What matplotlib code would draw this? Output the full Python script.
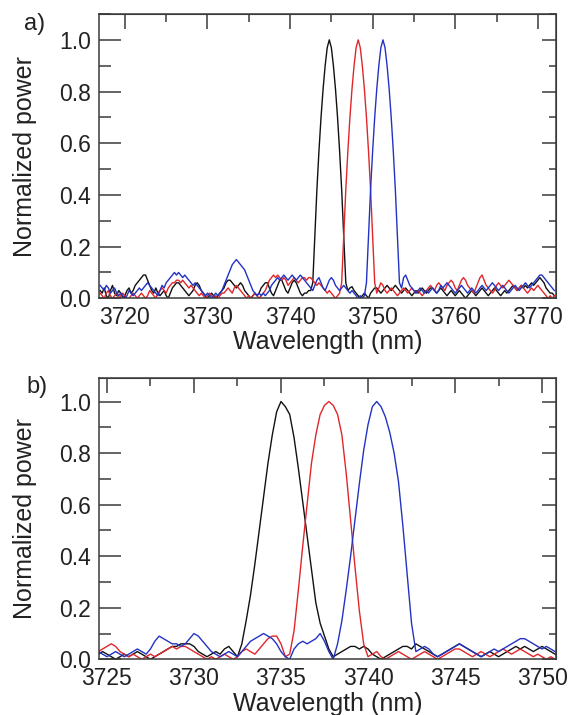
"""
Normalized transmission spectra for two filter settings (panels a and b)
"""
import numpy as np
import matplotlib
matplotlib.use('Agg')
import matplotlib.pyplot as plt
from matplotlib.ticker import MultipleLocator, FormatStrFormatter

plt.rcParams['font.family'] = ['Liberation Sans', 'DejaVu Sans']

# --- panel a) : sampled every 0.25 nm from 3717.0 to 3772.0 nm
top_wl = np.arange(3717.0, 3772.01, 0.25)

top_black = [
    0.03, 0.02, 0.04, 0.01, 0.00, 0.03, 0.05, 0.02, 0.01, 0.03, 0.02, 0.00, 0.01, 0.03, 0.04, 0.02, 0.03, 0.05, 0.06, 0.07,
    0.08, 0.09, 0.09, 0.07, 0.05, 0.03, 0.02, 0.04, 0.02, 0.01, 0.02, 0.03, 0.01, 0.00, 0.02, 0.04, 0.05, 0.06, 0.06, 0.05,
    0.04, 0.03, 0.02, 0.01, 0.02, 0.03, 0.05, 0.06, 0.05, 0.03, 0.02, 0.01, 0.00, 0.01, 0.02, 0.01, 0.00, 0.01, 0.02, 0.03,
    0.04, 0.06, 0.07, 0.07, 0.06, 0.05, 0.04, 0.05, 0.06, 0.05, 0.03, 0.02, 0.01, 0.00, 0.01, 0.02, 0.01, 0.02, 0.04, 0.05,
    0.06, 0.06, 0.04, 0.02, 0.01, 0.03, 0.05, 0.07, 0.07, 0.05, 0.03, 0.02, 0.04, 0.06, 0.07, 0.06, 0.04, 0.02, 0.01, 0.02,
    0.02, 0.03, 0.03, 0.06, 0.24, 0.42, 0.57, 0.70, 0.81, 0.90, 0.97, 1.00, 0.97, 0.90, 0.81, 0.70, 0.57, 0.42, 0.24, 0.06,
    0.03, 0.04, 0.045, 0.03, 0.02, 0.01, 0.00, 0.01, 0.02, 0.01, 0.00, 0.02, 0.03, 0.04, 0.04, 0.03, 0.02, 0.03, 0.04, 0.05,
    0.04, 0.03, 0.04, 0.05, 0.04, 0.03, 0.02, 0.03, 0.04, 0.03, 0.02, 0.01, 0.02, 0.03, 0.02, 0.03, 0.04, 0.03, 0.02, 0.03,
    0.04, 0.04, 0.03, 0.02, 0.03, 0.04, 0.03, 0.02, 0.01, 0.02, 0.03, 0.02, 0.01, 0.02, 0.03, 0.02, 0.01, 0.00, 0.01, 0.02,
    0.03, 0.02, 0.01, 0.02, 0.03, 0.04, 0.03, 0.02, 0.01, 0.02, 0.03, 0.04, 0.03, 0.02, 0.01, 0.02, 0.03, 0.02, 0.03, 0.04,
    0.05, 0.04, 0.03, 0.04, 0.05, 0.04, 0.05, 0.04, 0.05, 0.06, 0.05, 0.06, 0.07, 0.08, 0.07, 0.06, 0.04, 0.03, 0.02, 0.02,
    0.01,
]

top_red = [
    0.02, 0.01, 0.00, 0.02, 0.03, 0.01, 0.00, 0.01, 0.02, 0.00, 0.01, 0.02, 0.01, 0.00, 0.00, 0.01, 0.02, 0.01, 0.00, 0.01,
    0.02, 0.01, 0.00, 0.01, 0.03, 0.02, 0.01, 0.00, 0.02, 0.03, 0.04, 0.03, 0.02, 0.04, 0.05, 0.06, 0.06, 0.07, 0.07, 0.06,
    0.07, 0.06, 0.05, 0.04, 0.05, 0.04, 0.03, 0.02, 0.01, 0.02, 0.01, 0.00, 0.01, 0.02, 0.01, 0.00, 0.01, 0.00, 0.01, 0.02,
    0.02, 0.03, 0.04, 0.03, 0.02, 0.04, 0.05, 0.04, 0.03, 0.02, 0.01, 0.00, 0.01, 0.00, 0.01, 0.02, 0.01, 0.00, 0.01, 0.02,
    0.03, 0.05, 0.07, 0.08, 0.09, 0.08, 0.09, 0.08, 0.07, 0.08, 0.07, 0.05, 0.06, 0.07, 0.08, 0.07, 0.06, 0.07, 0.08, 0.08,
    0.07, 0.08, 0.08, 0.07, 0.06, 0.05, 0.06, 0.05, 0.04, 0.03, 0.02, 0.03, 0.02, 0.01, 0.00, 0.01, 0.02, 0.06, 0.24, 0.42,
    0.57, 0.70, 0.81, 0.90, 0.97, 1.00, 0.97, 0.90, 0.81, 0.70, 0.57, 0.42, 0.24, 0.06, 0.02, 0.04, 0.06, 0.05, 0.03, 0.02,
    0.03, 0.04, 0.03, 0.02, 0.01, 0.02, 0.03, 0.04, 0.03, 0.02, 0.03, 0.04, 0.03, 0.02, 0.03, 0.02, 0.01, 0.02, 0.03, 0.04,
    0.05, 0.04, 0.03, 0.05, 0.06, 0.05, 0.04, 0.03, 0.05, 0.06, 0.07, 0.06, 0.04, 0.03, 0.05, 0.07, 0.08, 0.07, 0.05, 0.04,
    0.03, 0.02, 0.04, 0.06, 0.08, 0.09, 0.07, 0.05, 0.04, 0.03, 0.02, 0.03, 0.05, 0.06, 0.05, 0.04, 0.05, 0.06, 0.07, 0.06,
    0.05, 0.04, 0.03, 0.04, 0.05, 0.04, 0.03, 0.02, 0.03, 0.04, 0.03, 0.04, 0.05, 0.04, 0.03, 0.02, 0.01, 0.00, 0.01, 0.00,
    0.01,
]

top_blue = [
    0.05, 0.04, 0.03, 0.05, 0.04, 0.02, 0.03, 0.04, 0.02, 0.01, 0.02, 0.01, 0.00, 0.01, 0.03, 0.02, 0.01, 0.02, 0.03, 0.04,
    0.03, 0.04, 0.05, 0.06, 0.05, 0.04, 0.03, 0.02, 0.01, 0.03, 0.05, 0.04, 0.06, 0.07, 0.08, 0.09, 0.10, 0.09, 0.10, 0.09,
    0.08, 0.09, 0.08, 0.07, 0.06, 0.05, 0.06, 0.05, 0.04, 0.03, 0.02, 0.01, 0.02, 0.01, 0.00, 0.01, 0.02, 0.01, 0.02, 0.03,
    0.05, 0.07, 0.09, 0.11, 0.13, 0.14, 0.15, 0.14, 0.13, 0.12, 0.11, 0.09, 0.07, 0.05, 0.03, 0.02, 0.01, 0.02, 0.01, 0.02,
    0.01, 0.02, 0.03, 0.05, 0.06, 0.07, 0.08, 0.07, 0.08, 0.09, 0.08, 0.07, 0.08, 0.09, 0.08, 0.07, 0.08, 0.09, 0.08, 0.07,
    0.06, 0.05, 0.04, 0.03, 0.05, 0.07, 0.08, 0.06, 0.04, 0.03, 0.05, 0.07, 0.08, 0.07, 0.05, 0.04, 0.03, 0.04, 0.05, 0.04,
    0.03, 0.02, 0.03, 0.02, 0.01, 0.00, 0.01, 0.00, 0.01, 0.06, 0.24, 0.42, 0.57, 0.70, 0.81, 0.90, 0.97, 1.00, 0.97, 0.90,
    0.81, 0.70, 0.57, 0.42, 0.24, 0.06, 0.04, 0.08, 0.09, 0.07, 0.05, 0.04, 0.03, 0.02, 0.03, 0.04, 0.03, 0.02, 0.03, 0.02,
    0.03, 0.04, 0.03, 0.02, 0.03, 0.05, 0.04, 0.05, 0.06, 0.05, 0.04, 0.03, 0.02, 0.03, 0.04, 0.05, 0.04, 0.03, 0.02, 0.03,
    0.04, 0.03, 0.02, 0.03, 0.04, 0.05, 0.04, 0.03, 0.04, 0.05, 0.06, 0.05, 0.04, 0.03, 0.04, 0.05, 0.04, 0.03, 0.02, 0.03,
    0.04, 0.05, 0.04, 0.03, 0.04, 0.05, 0.06, 0.05, 0.04, 0.05, 0.06, 0.07, 0.08, 0.09, 0.09, 0.08, 0.07, 0.06, 0.05, 0.04,
    0.03,
]

# --- panel b) : sampled every 0.25 nm from 3724.5 to 3751.0 nm
bottom_wl = np.arange(3724.5, 3751.01, 0.25)

bottom_black = [
    0.02, 0.03, 0.02, 0.01, 0.00, 0.01, 0.02, 0.01, 0.02, 0.03, 0.02, 0.01, 0.00, 0.01, 0.02, 0.03, 0.04, 0.05, 0.05, 0.06,
    0.06, 0.06, 0.05, 0.03, 0.02, 0.01, 0.02, 0.03, 0.02, 0.04, 0.05, 0.03, 0.01, 0.06, 0.15, 0.25, 0.37, 0.50, 0.63, 0.76,
    0.87, 0.96, 1.00, 0.98, 0.95, 0.86, 0.74, 0.61, 0.48, 0.35, 0.22, 0.14, 0.09, 0.04, 0.01, 0.02, 0.03, 0.04, 0.05, 0.05,
    0.04, 0.05, 0.04, 0.02, 0.01, 0.00, 0.01, 0.02, 0.03, 0.04, 0.05, 0.05, 0.04, 0.06, 0.05, 0.04, 0.03, 0.02, 0.01, 0.02,
    0.03, 0.04, 0.05, 0.06, 0.05, 0.04, 0.03, 0.02, 0.01, 0.02, 0.03, 0.02, 0.01, 0.02, 0.03, 0.04, 0.05, 0.04, 0.05, 0.04,
    0.03, 0.04, 0.05, 0.04, 0.03, 0.02, 0.01,
]

bottom_red = [
    0.03, 0.04, 0.05, 0.06, 0.05, 0.03, 0.02, 0.01, 0.02, 0.01, 0.00, 0.01, 0.02, 0.01, 0.02, 0.03, 0.04, 0.05, 0.04, 0.05,
    0.05, 0.04, 0.03, 0.02, 0.01, 0.00, 0.01, 0.00, 0.01, 0.02, 0.01, 0.00, 0.01, 0.03, 0.04, 0.03, 0.02, 0.04, 0.06, 0.08,
    0.09, 0.09, 0.06, 0.01, 0.02, 0.11, 0.27, 0.44, 0.60, 0.76, 0.87, 0.95, 0.985, 1.00, 0.985, 0.95, 0.87, 0.72, 0.54, 0.36,
    0.19, 0.06, 0.01, 0.02, 0.03, 0.01, 0.00, 0.01, 0.02, 0.03, 0.02, 0.01, 0.00, 0.01, 0.02, 0.03, 0.02, 0.01, 0.00, 0.01,
    0.02, 0.03, 0.04, 0.04, 0.03, 0.02, 0.01, 0.02, 0.03, 0.02, 0.01, 0.02, 0.03, 0.04, 0.03, 0.02, 0.03, 0.04, 0.03, 0.02,
    0.01, 0.02, 0.01, 0.00, 0.01, 0.00, 0.01,
]

bottom_blue = [
    0.03, 0.02, 0.01, 0.02, 0.03, 0.02, 0.01, 0.02, 0.03, 0.04, 0.03, 0.02, 0.04, 0.07, 0.09, 0.08, 0.07, 0.06, 0.06, 0.05,
    0.06, 0.08, 0.10, 0.09, 0.07, 0.05, 0.03, 0.02, 0.01, 0.02, 0.03, 0.02, 0.01, 0.03, 0.05, 0.07, 0.08, 0.09, 0.10, 0.09,
    0.08, 0.06, 0.03, 0.01, 0.00, 0.04, 0.06, 0.07, 0.06, 0.07, 0.08, 0.10, 0.07, 0.03, 0.00, 0.06, 0.15, 0.27, 0.40, 0.54,
    0.68, 0.81, 0.91, 0.98, 1.00, 0.98, 0.94, 0.88, 0.80, 0.69, 0.52, 0.33, 0.14, 0.03, 0.04, 0.05, 0.04, 0.02, 0.01, 0.02,
    0.03, 0.04, 0.05, 0.06, 0.05, 0.04, 0.03, 0.02, 0.01, 0.02, 0.03, 0.04, 0.03, 0.04, 0.05, 0.06, 0.07, 0.08, 0.08, 0.07,
    0.06, 0.05, 0.04, 0.05, 0.04, 0.03, 0.02,
]

line_colors = ['#111111', '#e0262a', '#2233c4']
axis_color = '#3a3a3a'
text_color = '#222222'


def style_panel(ax, xlim, ylim, x_major, x_minor, xlabel_pad):
    """Igor-like frame: inward ticks left/top/right, labels left/bottom"""
    ax.set_xlim(*xlim)
    ax.set_ylim(*ylim)
    for spine in ax.spines.values():
        spine.set_color(axis_color)
        spine.set_linewidth(1.1)

    ax.xaxis.set_major_locator(MultipleLocator(x_major))
    ax.yaxis.set_major_locator(MultipleLocator(0.2))
    ax.yaxis.set_minor_locator(MultipleLocator(0.1))
    ax.yaxis.set_major_formatter(FormatStrFormatter('%.1f'))

    ax.tick_params(axis='x', which='both', length=0, labelsize=16.5, pad=5.5,
                   labelcolor=text_color)
    ax.tick_params(axis='y', which='major', direction='in', length=15.5, width=1.1,
                   color=axis_color, labelsize=16.5, pad=6, labelcolor=text_color)
    ax.tick_params(axis='y', which='minor', direction='in', length=8.5, width=1.1,
                   color=axis_color)

    top = ax.secondary_xaxis('top')
    top.xaxis.set_major_locator(MultipleLocator(x_major))
    top.xaxis.set_minor_locator(MultipleLocator(x_minor))
    top.tick_params(which='major', direction='in', length=10.5, width=1.1,
                    color=axis_color, labeltop=False)
    top.tick_params(which='minor', direction='in', length=5.5, width=1.1,
                    color=axis_color)
    top.spines['top'].set_color(axis_color)

    right = ax.secondary_yaxis('right')
    right.yaxis.set_major_locator(MultipleLocator(0.2))
    right.yaxis.set_minor_locator(MultipleLocator(0.1))
    right.tick_params(which='major', direction='in', length=10, width=1.1,
                      color=axis_color, labelright=False)
    right.tick_params(which='minor', direction='in', length=5, width=1.1,
                      color=axis_color)
    right.spines['right'].set_color(axis_color)

    ax.set_xlabel('Wavelength (nm)', fontsize=18, color=text_color, labelpad=xlabel_pad)
    ax.set_ylabel('Normalized power', fontsize=18, color=text_color)
    ax.yaxis.set_label_coords(-0.137, 0.5)


fig = plt.figure(figsize=(5.69, 7.15), dpi=100)
ax_a = fig.add_axes([0.1745, 0.5828, 0.8026, 0.3976])
ax_b = fig.add_axes([0.1745, 0.0779, 0.8026, 0.3930])

for values, color in zip([top_black, top_red, top_blue], line_colors):
    ax_a.plot(top_wl, values, color=color, linewidth=1.0)
style_panel(ax_a, (3716.9, 3772.2), (0, 1.1), 10, 5, 1)

for values, color in zip([bottom_black, bottom_red, bottom_blue], line_colors):
    ax_b.plot(bottom_wl, values, color=color, linewidth=1.0)
style_panel(ax_b, (3724.56, 3750.8), (0, 1.09), 5, 2.5, 1.5)

fig.text(24 / 569, 1 - 24 / 715, 'a)', fontsize=17, color=text_color, ha='left', va='center')
fig.text(26 / 569, 1 - 387 / 715, 'b)', fontsize=17, color=text_color, ha='left', va='center')

fig.savefig('out.png', dpi=100)
